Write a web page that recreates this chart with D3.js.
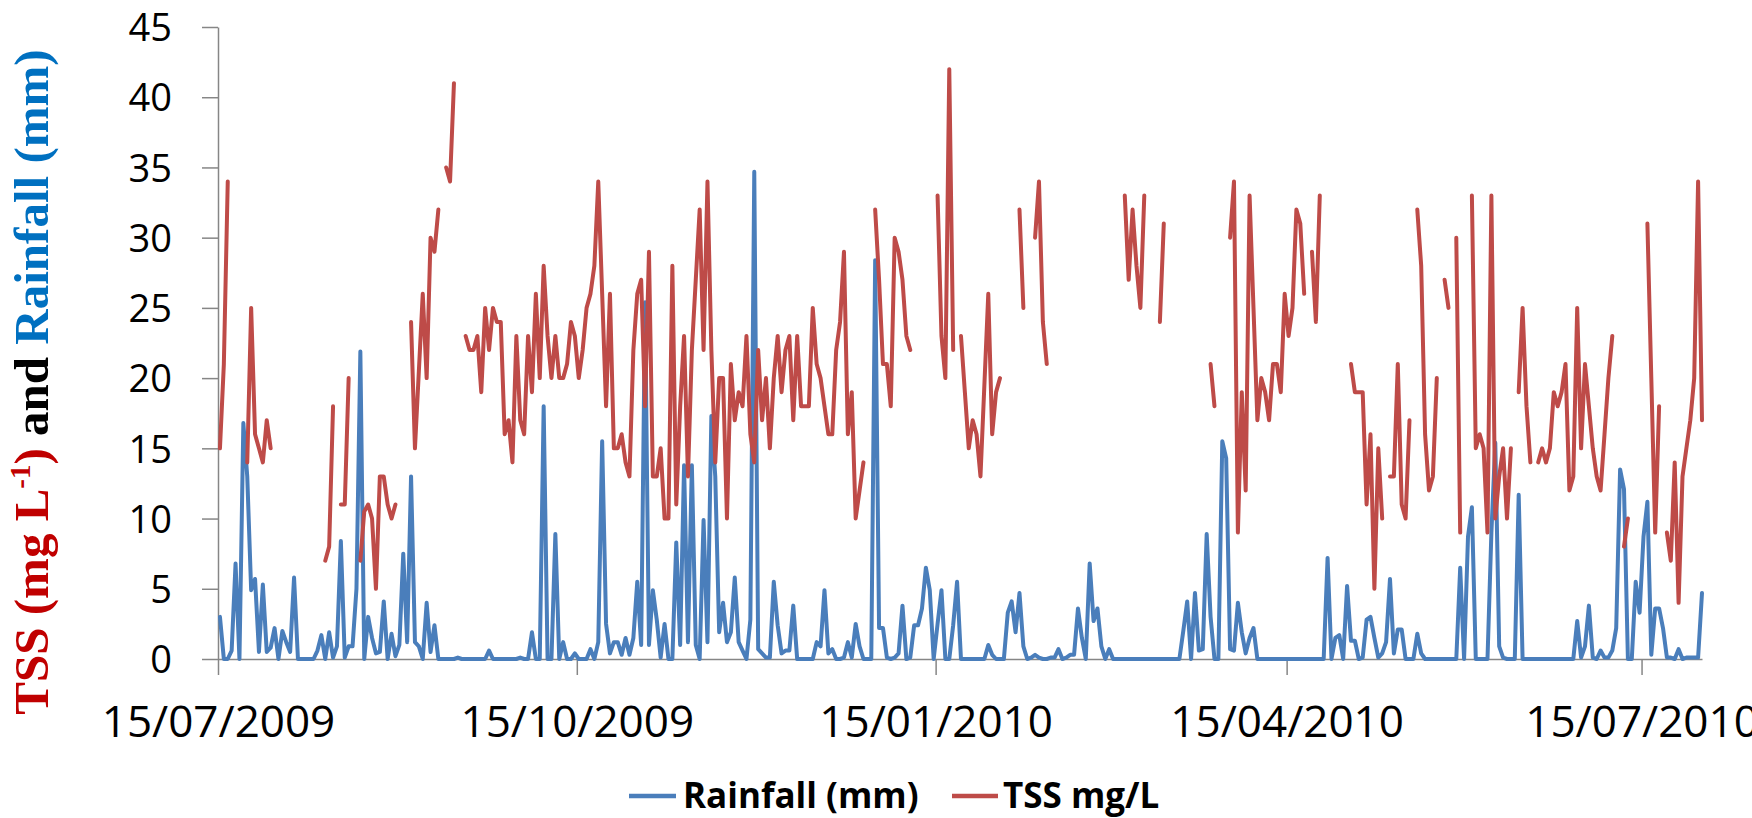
<!DOCTYPE html>
<html>
<head>
<meta charset="utf-8">
<script src="https://cdn.jsdelivr.net/npm/d3@7"></script>
<style>
  html, body { margin: 0; padding: 0; background: #fff; }
  svg { display: block; }
</style>
</head>
<body>
<svg id="chart" width="1752" height="818"></svg>
<script>
/* Daily rainfall and TSS, 15/07/2009 - 30/07/2010.
   One value per day; null = no TSS sample (gap in the line). */

const firstDay = '15/07/2009';
const xTickLabels = ['15/07/2009', '15/10/2009', '15/01/2010', '15/04/2010', '15/07/2010'];
const yTicks = [0, 5, 10, 15, 20, 25, 30, 35, 40, 45];

const rainfall = [
  3.0, 0, 0, 0.6, 6.8, 0, 16.8, 13, 4.9, 5.7,
  0.5, 5.3, 0.5, 0.8, 2.2, 0, 2, 1.2, 0.5, 5.8,
  0, 0, 0, 0, 0, 0.6, 1.7, 0, 1.9, 0.1,
  0.9, 8.4, 0.1, 0.9, 0.9, 5, 21.9, 0, 3, 1.5,
  0.4, 0.5, 4.1, 0, 1.8, 0.2, 1, 7.5, 1.2, 13,
  1.2, 0.9, 0, 4, 0.5, 2.4, 0, 0, 0, 0,
  0, 0.1, 0, 0, 0, 0, 0, 0, 0, 0.6,
  0, 0, 0, 0, 0, 0, 0, 0.1, 0, 0,
  1.9, 0, 0, 18, 0, 0, 8.9, 0, 1.2, 0,
  0, 0.4, 0, 0, 0, 0.7, 0, 1.2, 15.5, 2.5,
  0.4, 1.2, 1.2, 0.3, 1.5, 0.3, 1.5, 5.5, 1, 25.4,
  1, 4.9, 2.8, 0.1, 2.5, 0, 0, 8.3, 1, 13.8,
  1.2, 13.8, 1, 0, 9.9, 1.2, 17.3, 13, 1.9, 4,
  1.2, 1.9, 5.8, 1.2, 0.6, 0, 2.8, 34.7, 0.7, 0.4,
  0.1, 0.1, 5.5, 2.4, 0.4, 0.6, 0.6, 3.8, 0, 0,
  0, 0, 0, 1.2, 0.9, 4.9, 0.4, 0.7, 0, 0,
  0.1, 1.2, 0.1, 2.5, 0.9, 0, 0, 0, 28.4, 2.2,
  2.2, 0.1, 0, 0.1, 0.4, 3.8, 0, 0.1, 2.4, 2.4,
  3.6, 6.5, 4.9, 0, 2.5, 4.9, 0, 0, 2.4, 5.5,
  0, 0, 0, 0, 0, 0, 0, 1, 0.3, 0,
  0, 0, 3.3, 4.1, 1.9, 4.7, 0.9, 0, 0.1, 0.3,
  0.1, 0, 0, 0.1, 0.1, 0.7, 0, 0.1, 0.3, 0.3,
  3.6, 1.5, 0, 6.8, 2.7, 3.6, 0.9, 0, 0.7, 0,
  0, 0, 0, 0, 0, 0, 0, 0, 0, 0,
  0, 0, 0, 0, 0, 0, 0, 2, 4.1, 0,
  4.7, 0.6, 0.7, 8.9, 3, 0, 0, 15.5, 14.3, 0.7,
  0.6, 4, 1.9, 0.4, 1.5, 2.2, 0, 0, 0, 0,
  0, 0, 0, 0, 0, 0, 0, 0, 0, 0,
  0, 0, 0, 0, 7.2, 0, 1.5, 1.7, 0, 5.2,
  1.3, 1.3, 0, 0.1, 2.8, 3, 1.5, 0.1, 0.4, 1.2,
  5.7, 0.4, 2.1, 2.1, 0, 0, 0, 1.8, 0.4, 0,
  0, 0, 0, 0, 0, 0, 0, 0, 6.5, 0,
  8.7, 10.8, 0, 0, 0, 0, 9, 15.4, 0.9, 0.1,
  0, 0, 0, 11.7, 0, 0, 0, 0, 0, 0,
  0, 0, 0, 0, 0, 0, 0, 0, 2.7, 0.1,
  0.9, 3.8, 0.1, 0, 0.6, 0.1, 0.1, 0.6, 2.2, 13.5,
  12.1, 0, 0, 5.5, 3.3, 8.7, 11.2, 0.3, 3.6, 3.6,
  2.2, 0.1, 0.1, 0, 0.7, 0, 0.1, 0.1, 0.1, 0.1,
  4.7
];

const tss = [
  15, 21, 34, null, null, null, null, 14, 25, 16,
  15, 14, 17, 15, null, null, null, null, null, null,
  null, null, null, null, null, null, null, 7, 8, 18,
  null, 11, 11, 20, null, null, 7, 10.5, 11, 10,
  5, 13, 13, 11, 10, 11, null, null, null, 24,
  15, 20.5, 26, 20, 30, 29, 32, null, 35, 34,
  41, null, null, 23, 22, 22, 23, 19, 25, 22,
  25, 24, 24, 16, 17, 14, 23, 17, 16, 23,
  19, 26, 20, 28, 23, 20, 23, 20, 20, 21,
  24, 23, 20, 22, 25, 26, 28, 34, 26, 18,
  26, 15, 15, 16, 14, 13, 22, 26, 27, 18,
  29, 13, 13, 15, 10, 10, 28, 11, 18, 23,
  13, 22, 27, 32, 22, 34, 22, 14, 20, 20,
  10, 21, 17, 19, 18, 23, 16, 14, 22, 17,
  20, 15, 20, 23, 19, 22, 23, 17, 23, 18,
  18, 18, 25, 21, 20, 18, 16, 16, 22, 24,
  29, 16, 19, 10, 12, 14, null, null, 32, 27,
  21, 21, 18, 30, 29, 27, 23, 22, null, null,
  null, null, null, null, 33, 23, 20, 42, 22, null,
  23, 19, 15, 17, 16, 13, 19.5, 26, 16, 19,
  20, null, null, null, null, 32, 25, null, null, 30,
  34, 24, 21, null, null, null, null, null, null, null,
  null, null, null, null, null, null, null, null, null, null,
  null, null, 33, 27, 32, 28, 25, 33, null, null,
  null, 24, 31, null, null, null, null, null, null, null,
  null, null, null, null, 21, 18, null, null, null, 30,
  34, 9, 19, 12, 33, 25, 17, 20, 19, 17,
  21, 21, 19, 26, 23, 25, 32, 31, 26, null,
  29, 24, 33, null, null, null, null, null, null, null,
  21, 19, 19, 19, 11, 16, 5, 15, 10, null,
  13, 13, 21, 11, 10, 17, null, 32, 28, 16,
  12, 13, 20, null, 27, 25, null, 30, 9, null,
  null, 33, 15, 16, 15, 9, 33, 10, 13, 15,
  10, 15, null, 19, 25, 18, 14, null, 14, 15,
  14, 15, 19, 18, 19, 21, 12, 13, 25, 15,
  21, 18, 15, 13, 12, 16, 20, 23, null, null,
  8, 10, null, null, null, null, 31, 20, 9, 18,
  null, 9, 7, 14, 4, 13, 15, 17, 20, 34,
  17
];

const seriesNames = ['Rainfall (mm)', 'TSS mg/L'];
const seriesColours = ['#4a7ebb', '#be4b48'];

// ── layout ─────────────────────────────────────────────
const svg = d3.select('#chart');
const plot = { left: 218, right: 1702, top: 27, bottom: 659 };
const axisGrey = '#868686';

const parseDay = d3.utcParse('%d/%m/%Y');
const day0 = parseDay(firstDay);
const days = rainfall.map((_, i) => d3.utcDay.offset(day0, i));
// each daily point sits in the middle of its day
const mid = d => d3.utcHour.offset(d, 12);

const x = d3.scaleUtc()
  .domain([day0, mid(days[days.length - 1])])
  .range([plot.left, plot.right]);

const y = d3.scaleLinear()
  .domain([0, 45])
  .range([plot.bottom, plot.top]);

svg.append('rect').attr('width', 1752).attr('height', 818).attr('fill', '#fff');

// y axis
const yAxis = svg.append('g')
  .attr('transform', `translate(${plot.left},0)`)
  .call(d3.axisLeft(y).tickValues(yTicks).tickSize(16).tickSizeOuter(0));
yAxis.select('.domain').attr('stroke', axisGrey).attr('stroke-width', 1.5);
yAxis.selectAll('.tick line').attr('stroke', axisGrey).attr('stroke-width', 1.5);
yAxis.selectAll('.tick text')
  .attr('x', -46).attr('dy', '0.36em')
  .attr('font-family', '"Open Sans", sans-serif')
  .attr('font-size', 38).attr('fill', '#000');

// x axis
const xAxis = svg.append('g')
  .attr('transform', `translate(0,${plot.bottom})`)
  .call(d3.axisBottom(x)
    .tickValues(xTickLabels.map(parseDay))
    .tickFormat(d3.utcFormat('%d/%m/%Y'))
    .tickSize(16).tickSizeOuter(0));
xAxis.select('.domain').attr('stroke', axisGrey).attr('stroke-width', 1.5);
xAxis.selectAll('.tick line').attr('stroke', axisGrey).attr('stroke-width', 1.5);
xAxis.selectAll('.tick text')
  .attr('y', 78).attr('dy', 0)
  .attr('font-family', '"Open Sans", sans-serif')
  .attr('font-size', 44).attr('fill', '#000');

// series lines (rainfall first, TSS drawn on top)
const line = d3.line()
  .defined(d => d.v != null)
  .x(d => x(mid(d.date)))
  .y(d => y(d.v));

[rainfall, tss].forEach((vals, k) => {
  svg.append('path')
    .datum(vals.map((v, i) => ({ date: days[i], v })))
    .attr('d', line)
    .attr('fill', 'none')
    .attr('stroke', seriesColours[k])
    .attr('stroke-width', 4)
    .attr('stroke-linejoin', 'round')
    .attr('stroke-linecap', 'round');
});

// y axis title, three colours
const title = svg.append('text')
  .attr('transform', 'translate(48,382) rotate(-90)')
  .attr('text-anchor', 'middle')
  .attr('font-family', '"Liberation Serif", serif')
  .attr('font-weight', 'bold')
  .attr('font-size', 49);
title.append('tspan').attr('fill', '#c00000').text('TSS (mg L');
title.append('tspan').attr('fill', '#c00000').attr('font-size', 29).attr('dy', -18).text('-1');
title.append('tspan').attr('fill', '#c00000').attr('dy', 18).text(')');
title.append('tspan').attr('fill', '#000').text(' and ');
title.append('tspan').attr('fill', '#0070c0').text('Rainfall (mm)');

// legend
const legendItems = [
  { x1: 629, x2: 676, tx: 683 },
  { x1: 952, x2: 998, tx: 1003 }
];
const legend = svg.append('g');
legendItems.forEach((it, k) => {
  legend.append('line')
    .attr('x1', it.x1).attr('x2', it.x2)
    .attr('y1', 796).attr('y2', 796)
    .attr('stroke', seriesColours[k]).attr('stroke-width', 4.5);
  legend.append('text')
    .attr('x', it.tx).attr('y', 808)
    .attr('font-family', '"Open Sans", sans-serif')
    .attr('font-weight', 'bold')
    .attr('font-size', 35)
    .attr('fill', '#000')
    .text(seriesNames[k]);
});
</script>
</body>
</html>
